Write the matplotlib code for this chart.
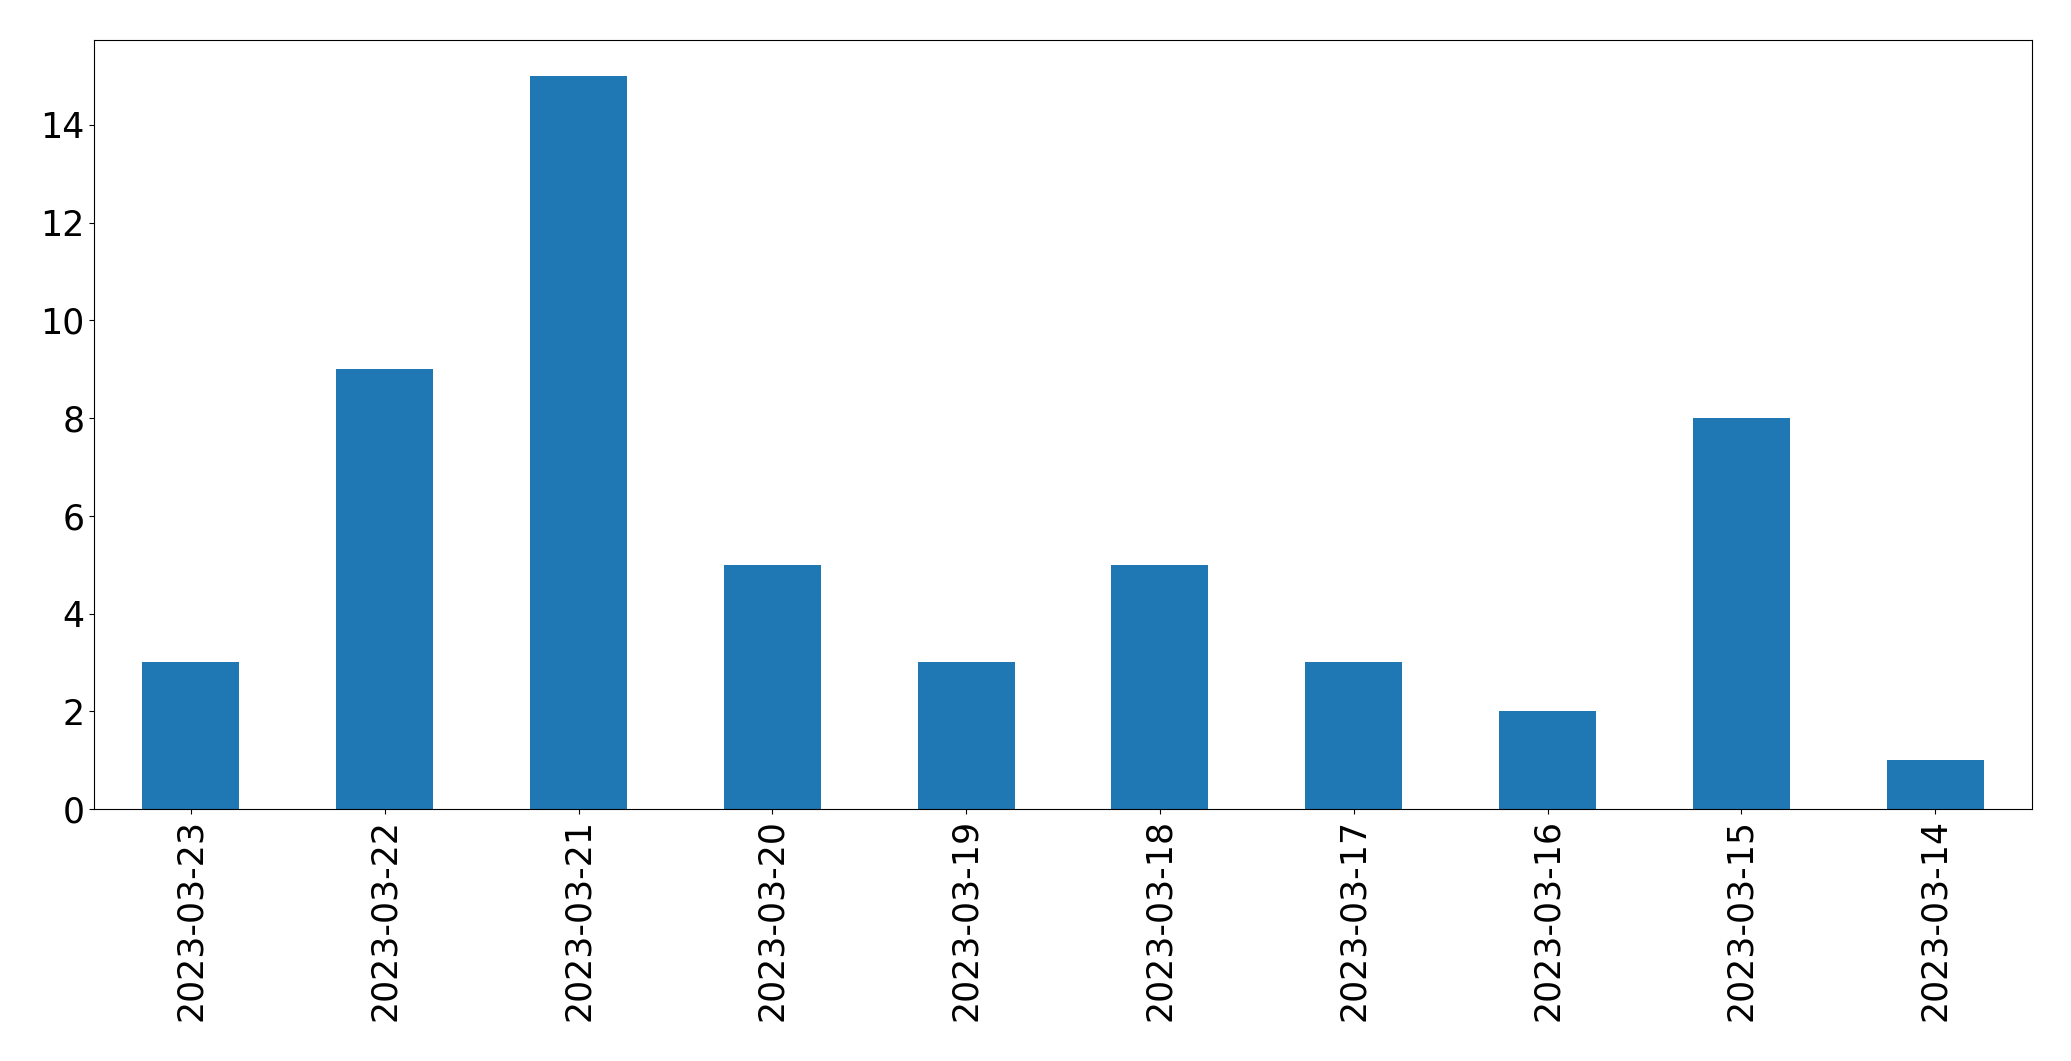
import matplotlib
matplotlib.use('Agg')
import matplotlib.pyplot as plt
import pandas as pd

dates = ['2023-03-23', '2023-03-22', '2023-03-21', '2023-03-20', '2023-03-19',
         '2023-03-18', '2023-03-17', '2023-03-16', '2023-03-15', '2023-03-14']
counts = [3, 9, 15, 5, 3, 5, 3, 2, 8, 1]

series = pd.Series(counts, index=dates)

fig = plt.figure(figsize=(20.71, 10.61), dpi=100)
ax = fig.add_subplot(111)
series.plot(kind='bar', ax=ax, color='#1f77b4', fontsize=25)
fig.subplots_adjust(left=94/2071, right=2032/2071, top=1-39.5/1061, bottom=1-809/1061)

fig.savefig('out.png', dpi=100)
